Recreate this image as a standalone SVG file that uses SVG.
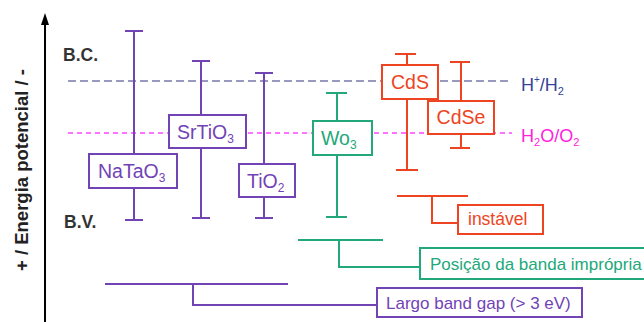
<svg xmlns="http://www.w3.org/2000/svg" width="644" height="322" viewBox="0 0 644 322">
<style>
text{font-family:"Liberation Sans",Arial,sans-serif}
.p{stroke:#7243b5;fill:none;stroke-width:2}
.g{stroke:#22a87a;fill:none;stroke-width:2}
.r{stroke:#ee4422;fill:none;stroke-width:2}
.pb{stroke:#7243b5;fill:#fff;stroke-width:2}
.gb{stroke:#22a87a;fill:#fff;stroke-width:2}
.rb{stroke:#ee4422;fill:#fff;stroke-width:2}
.pt{fill:#7243b5;font-size:19.5px}
.gt{fill:#22a87a;font-size:19.5px}
.rt{fill:#ee4422;font-size:19.5px}
.lab{fill:#333;font-size:17.5px;font-weight:bold}
</style>
<rect width="644" height="322" fill="#fff"/>
<g id="axis">
<line x1="45" y1="22" x2="45" y2="322" stroke="#000" stroke-width="2"/>
<polygon points="45,13 41,25 49,25" fill="#000"/>
<text transform="translate(28,170) rotate(-90)" text-anchor="middle" style="font-size:18.5px;font-weight:bold;fill:#222">+ / Energia potencial / -</text>
<text x="63" y="61" class="lab">B.C.</text>
<text x="64" y="228" class="lab">B.V.</text>
</g>
<g id="levels">
<line x1="68" y1="81" x2="511" y2="81" stroke="#7878a8" stroke-width="1.5" stroke-dasharray="8,4"/>
<line x1="68" y1="133" x2="512" y2="133" stroke="#ff44ff" stroke-width="1.5" stroke-dasharray="5,4"/>
<text x="521" y="91" style="font-size:18px;fill:#334499">H<tspan dy="-8" font-size="10">+</tspan><tspan dy="8">/H</tspan><tspan dy="4" font-size="11">2</tspan></text>
<text x="521" y="142" style="font-size:18px;fill:#ff22dd">H<tspan dy="4" font-size="11">2</tspan><tspan dy="-4">O/O</tspan><tspan dy="4" font-size="11">2</tspan></text>
</g>
<g id="connectors">
<path class="p" d="M134 31V220M125 31H143M125 220H143"/>
<path class="p" d="M201 61V218M192 61H210M192 218H210"/>
<path class="p" d="M264 73V218M255 73H273M255 218H273"/>
<path class="g" d="M337 93V217M326 93H347M326 217H347"/>
<path class="r" d="M407 54V170M395 54H416M396 170H418"/>
<path class="r" d="M461 62V148M450 62H470M450 148H470"/>
<path class="r" d="M397 196H468M432 196V223H458"/>
<path class="g" d="M298 240H383M339 240V267H420"/>
<path class="p" d="M105 284H288M193 284V305H377"/>
</g>
<g id="NaTaO3">
<rect class="pb" x="89" y="154" width="88" height="34"/>
<text class="pt" x="98" y="178">NaTaO<tspan dy="4" font-size="12">3</tspan></text>
</g>
<g id="SrTiO3">
<rect class="pb" x="169" y="115" width="77" height="33"/>
<text class="pt" x="177" y="139">SrTiO<tspan dy="4" font-size="12">3</tspan></text>
</g>
<g id="TiO2">
<rect class="pb" x="239" y="164" width="56" height="33"/>
<text class="pt" x="247" y="188">TiO<tspan dy="4" font-size="12">2</tspan></text>
</g>
<g id="WO3">
<rect class="gb" x="313" y="121" width="59" height="34"/>
<text class="gt" x="321" y="145">Wo<tspan dy="4" font-size="12">3</tspan></text>
</g>
<g id="CdS">
<rect class="rb" x="382" y="65" width="56" height="34"/>
<text class="rt" x="410" y="89" text-anchor="middle">CdS</text>
</g>
<g id="CdSe">
<rect class="rb" x="428" y="101" width="66" height="33"/>
<text class="rt" x="461" y="124" text-anchor="middle">CdSe</text>
</g>
<g id="instavel">
<rect class="rb" x="458" y="205" width="85" height="29"/>
<text x="468" y="225" style="fill:#ee4422;font-size:17.5px">instável</text>
</g>
<g id="posicao">
<rect class="gb" x="420" y="248" width="240" height="31"/>
<text x="430" y="270" style="fill:#22a87a;font-size:17px">Posição da banda imprópria</text>
</g>
<g id="largo">
<rect class="pb" x="377" y="288" width="205" height="29"/>
<text x="386" y="309" style="fill:#7243b5;font-size:17px">Largo band gap (&gt; 3 eV)</text>
</g>
</svg>
